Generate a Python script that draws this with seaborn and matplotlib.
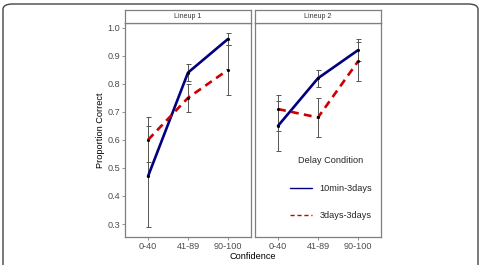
import numpy as np
import pandas as pd
import matplotlib
matplotlib.use('Agg')
from matplotlib import pyplot as plt
from matplotlib.lines import Line2D
from matplotlib.patches import FancyBboxPatch
import seaborn as sns

sns.set_style('white')
plt.rcParams['font.family'] = ['Liberation Sans', 'DejaVu Sans']

confidence = ['0-40', '41-89', '90-100']
conditions = ['10min-3days', '3days-3days']
lineups = ['Lineup 1', 'Lineup 2']

# means and error bar limits, per lineup, per condition
l1_fast = [0.47, 0.84, 0.96]
l1_fast_lo = [0.29, 0.81, 0.94]
l1_fast_hi = [0.65, 0.87, 0.98]
l1_slow = [0.60, 0.75, 0.85]
l1_slow_lo = [0.52, 0.70, 0.76]
l1_slow_hi = [0.68, 0.80, 0.94]

l2_fast = [0.65, 0.82, 0.92]
l2_fast_lo = [0.56, 0.79, 0.88]
l2_fast_hi = [0.74, 0.85, 0.96]
l2_slow = [0.71, 0.68, 0.88]
l2_slow_lo = [0.63, 0.61, 0.81]
l2_slow_hi = [0.76, 0.75, 0.95]

rows = []
for lu, series in zip(lineups, [[(l1_fast, l1_fast_lo, l1_fast_hi), (l1_slow, l1_slow_lo, l1_slow_hi)],
                                [(l2_fast, l2_fast_lo, l2_fast_hi), (l2_slow, l2_slow_lo, l2_slow_hi)]]):
    for cond, (m, lo, hi) in zip(conditions, series):
        for i, c in enumerate(confidence):
            rows.append([lu, c, i, cond, m[i], lo[i], hi[i]])
df = pd.DataFrame(rows, columns=['lineup', 'conf', 'xi', 'cond', 'prop', 'lo', 'hi'])

pal = {'10min-3days': '#000080', '3days-3days': '#CC0000'}
dashes = {'10min-3days': '', '3days-3days': (3, 2)}
W, H = 483, 265
fig = plt.figure(figsize=(W / 100, H / 100), dpi=100)

fig.patches.append(FancyBboxPatch((3 / W, -0.2), 475 / W, 1.2 - 4 / H,
                                  boxstyle='round,pad=0,rounding_size=0.02',
                                  transform=fig.transFigure, fill=False,
                                  edgecolor='#444444', linewidth=1.0))

gray = '#7f7f7f'
fs = 6.6
for k, (lu, left) in enumerate(zip(lineups, [125, 255])):
    ax = fig.add_axes([left / W, 28 / H, 126 / W, 214 / H])
    sub = df[df['lineup'] == lu]
    for cond in conditions:
        s = sub[sub['cond'] == cond]
        ax.errorbar(s['xi'], s['prop'], yerr=[s['prop'] - s['lo'], s['hi'] - s['prop']],
                    fmt='none', ecolor='#555555', elinewidth=0.7, capsize=1.8, capthick=0.7, zorder=1)
    sns.lineplot(data=sub, x='xi', y='prop', hue='cond', style='cond', palette=pal,
                 dashes=dashes, linewidth=1.9, legend=False, ax=ax, zorder=2)
    ax.scatter(sub['xi'], sub['prop'], s=1.5, color='black', zorder=3)
    ax.set_xlim(-0.575, 2.575)
    ax.set_ylim(0.2537, 1.017)
    ax.set_xticks(range(3))
    ax.set_xticklabels(confidence)
    ax.set_yticks(np.arange(0.3, 1.01, 0.1))
    ax.set_yticklabels(['%.1f' % v for v in np.arange(0.3, 1.01, 0.1)])
    ax.tick_params(axis='both', labelsize=fs, labelcolor='#4D4D4D', color=gray,
                   length=2, width=0.6, pad=1.5, bottom=True, left=(k == 0))
    if k == 1:
        ax.set_yticklabels([])
    ax.set_xlabel('')
    ax.set_ylabel('')
    for sp in ax.spines.values():
        sp.set_color(gray)
        sp.set_linewidth(0.9)
    strip = fig.add_axes([left / W, 242 / H, 126 / W, 13 / H])
    strip.set_xticks([])
    strip.set_yticks([])
    for sp in strip.spines.values():
        sp.set_color(gray)
        sp.set_linewidth(0.9)
    strip.text(0.5, 0.5, lu, ha='center', va='center', fontsize=5, color='#333333',
               transform=strip.transAxes)
    if k == 0:
        ax.set_ylabel('Proportion Correct', fontsize=fs, color='black', labelpad=2)
    else:
        handles = [Line2D([], [], color=pal[conditions[0]], lw=1.0),
                   Line2D([], [], color=pal[conditions[1]], lw=1.0, dashes=(3, 2))]
        leg = ax.legend(handles, conditions, title='Delay Condition', loc='center',
                        bbox_to_anchor=(331 / W, 77 / H), bbox_transform=fig.transFigure,
                        frameon=False, fontsize=fs, title_fontsize=fs, handlelength=2.4,
                        labelspacing=2.0, handletextpad=0.8)
        leg._legend_box.sep = 14

fig.text(253 / W, 4 / H, 'Confidence', ha='center', va='bottom', fontsize=fs, color='black')
fig.savefig('out.png', dpi=100)
